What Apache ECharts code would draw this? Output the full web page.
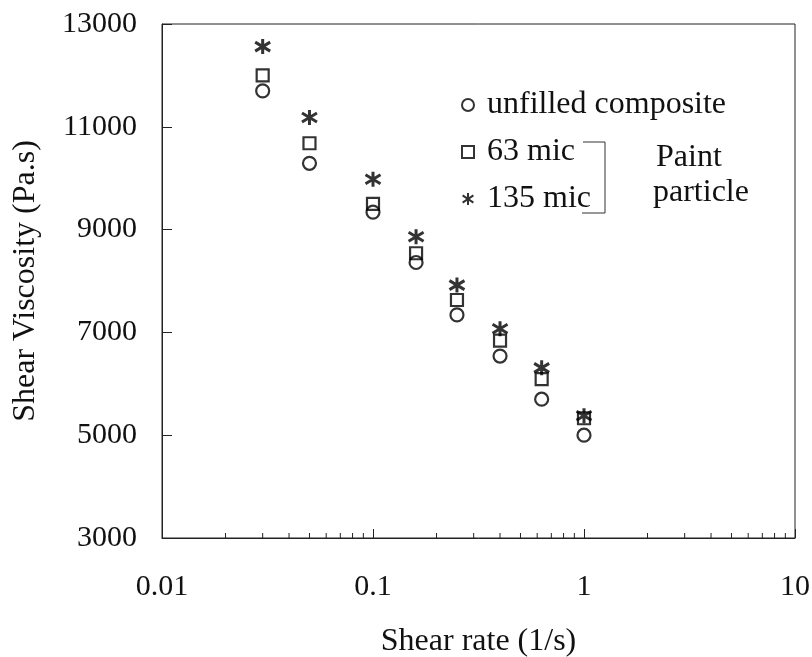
<!DOCTYPE html>
<html>
<head>
<meta charset="utf-8">
<script src="https://cdn.jsdelivr.net/npm/echarts@6/dist/echarts.min.js"></script>
<style>
html,body{margin:0;padding:0;background:#fff;}
#chart{width:812px;height:657px;}
</style>
</head>
<body>
<div id="chart"></div>
<script>
// ---- data ----
var shearRate = [0.03, 0.05, 0.1, 0.16, 0.25, 0.4, 0.63, 1.0];
var unfilled  = [11700, 10290, 9340, 8360, 7340, 6540, 5700, 5000];
var mic63     = [12000, 10680, 9500, 8540, 7630, 6840, 6090, 5330];
var mic135    = [12560, 11180, 9980, 8860, 7920, 7070, 6310, 5380];
var seriesNames = ['unfilled composite', '63 mic', '135 mic'];
var yTicks = [3000, 13000, 2000]; // min, max, interval
var xTicks = [0.01, 10];
var minorTickValues = [0.02,0.03,0.04,0.05,0.06,0.07,0.08,0.09,
                       0.2,0.3,0.4,0.5,0.6,0.7,0.8,0.9,
                       2,3,4,5,6,7,8,9];

var FONT = "'Liberation Serif','Times New Roman',serif";
var starPath = 'path://M10,0L10,20M1,4L19,16M1,16L19,4';

function pairs(xs, ys){ return xs.map(function(x,i){ return [x, ys[i]]; }); }

var chart = echarts.init(document.getElementById('chart'), null, {renderer:'canvas'});
chart.setOption({
  backgroundColor: '#fff',
  animation: false,
  grid: { left: 162, right: 17, top: 24, bottom: 119, containLabel: false, outerBoundsMode: 'none',
          show: true, borderColor: '#222', borderWidth: 1, backgroundColor: 'transparent' },
  xAxis: {
    type: 'log', logBase: 10, min: xTicks[0], max: xTicks[1],
    name: 'Shear rate (1/s)', nameLocation: 'middle', nameGap: 88,
    nameTextStyle: { fontFamily: FONT, fontSize: 32, color: '#111' },
    axisLine: { show: true, lineStyle: { color: '#222', width: 1 } },
    axisTick: { show: true, inside: true, length: 9, lineStyle: { color: '#222', width: 1 } },
    axisLabel: { fontFamily: FONT, fontSize: 30, color: '#111', margin: 34 },
    splitLine: { show: false }
  },
  yAxis: {
    type: 'value', min: yTicks[0], max: yTicks[1], interval: yTicks[2],
    name: 'Shear Viscosity (Pa.s)', nameLocation: 'middle', nameGap: 120,
    nameTextStyle: { fontFamily: FONT, fontSize: 32, color: '#111' },
    axisLine: { show: true, lineStyle: { color: '#222', width: 1 } },
    axisTick: { show: true, inside: true, length: 10, lineStyle: { color: '#222', width: 1 } },
    axisLabel: { fontFamily: FONT, fontSize: 30, color: '#111', margin: 25,
                 formatter: function(v){ return String(v); } },
    splitLine: { show: false }
  },
  legend: {
    data: seriesNames,
    orient: 'vertical', left: 456, top: 83,
    itemWidth: 12, itemHeight: 12, itemGap: 13,
    textStyle: { fontFamily: FONT, fontSize: 32, color: '#111', lineHeight: 34, padding: [0,0,0,8] },
    selectedMode: false
  },
  series: [
    { name: seriesNames[0], type: 'scatter', data: pairs(shearRate, unfilled),
      symbol: 'circle', symbolSize: 13,
      itemStyle: { color: 'rgba(0,0,0,0)', borderColor: '#000', borderWidth: 2.2 } },
    { name: seriesNames[1], type: 'scatter', data: pairs(shearRate, mic63),
      symbol: 'rect', symbolSize: 12,
      itemStyle: { color: 'rgba(0,0,0,0)', borderColor: '#000', borderWidth: 2.2 } },
    { name: seriesNames[2], type: 'scatter', data: pairs(shearRate, mic135),
      symbol: starPath, symbolSize: 15,
      itemStyle: { color: 'rgba(0,0,0,0)', borderColor: '#000', borderWidth: 3 } },
    { name: 'minorTicks', type: 'custom', silent: true,
      data: minorTickValues.map(function(v){ return [v, yTicks[0]]; }),
      renderItem: function(params, api){
        var p = api.coord([api.value(0), api.value(1)]);
        return { type: 'line', shape: { x1: p[0], y1: p[1], x2: p[0], y2: p[1] - 5 },
                 style: { stroke: '#222', lineWidth: 1 } };
      }
    }
  ],
  graphic: [
    { type: 'polyline', shape: { points: [[583,142],[605,142],[605,213],[582,213]] },
      style: { stroke: '#333', lineWidth: 1, fill: null } },
    { type: 'text', left: 656, top: 142, style: { text: 'Paint', font: '32px ' + FONT, fill: '#111' } },
    { type: 'text', left: 653, top: 177, style: { text: 'particle', font: '32px ' + FONT, fill: '#111' } }
  ]
});
</script>
</body>
</html>
